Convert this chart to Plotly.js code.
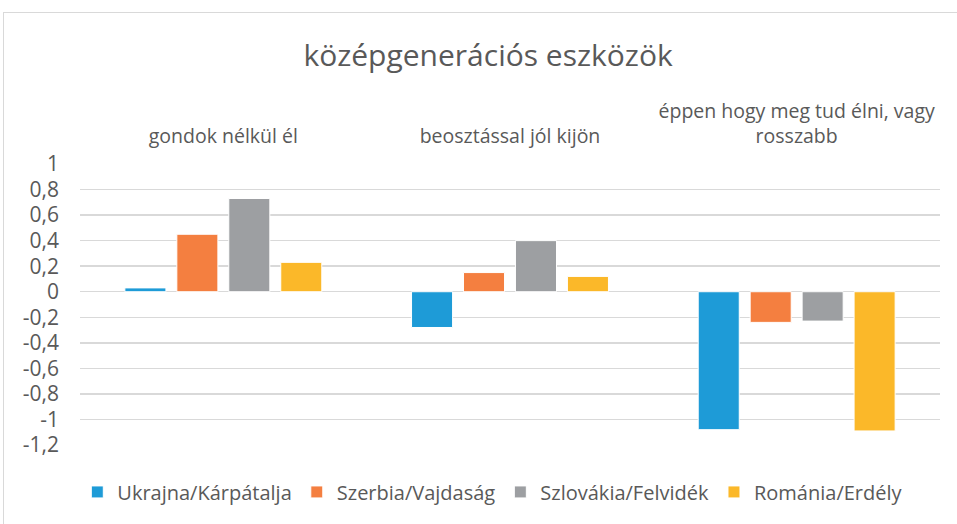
<!DOCTYPE html>
<html>
<head>
<meta charset="utf-8">
<script src="https://cdn.plot.ly/plotly-3.0.1.min.js"></script>
<style>
html,body{margin:0;padding:0;background:#fff;overflow:hidden;}
#frame{position:absolute;left:3px;top:12px;width:1000px;height:600px;border-left:1px solid #d9d9d9;border-top:1px solid #d9d9d9;}
#chart{position:absolute;left:0;top:0;width:957px;height:524px;}
</style>
</head>
<body>
<div id="frame"></div>
<div id="chart"></div>
<script>
const categories = ["gondok nélkül él", "beosztással jól kijön", "éppen hogy meg tud élni, vagy<br>rosszabb"];
const seriesNames = ["Ukrajna/Kárpátalja", "Szerbia/Vajdaság", "Szlovákia/Felvidék", "Románia/Erdély"];
const ukrajna = [0.03, -0.28, -1.08];
const szerbia = [0.45, 0.15, -0.24];
const szlovakia = [0.73, 0.40, -0.23];
const romania = [0.23, 0.12, -1.09];
const tickValues = [1, 0.8, 0.6, 0.4, 0.2, 0, -0.2, -0.4, -0.6, -0.8, -1, -1.2];
const tickLabels = ["1", "0,8", "0,6", "0,4", "0,2", "0", "-0,2", "-0,4", "-0,6", "-0,8", "-1", "-1,2"];
const colors = ["#1E9BD7", "#F47F40", "#9D9FA2", "#FBB829"];

const seriesValues = [ukrajna, szerbia, szlovakia, romania];
const font = "'Open Sans', Lato, sans-serif";
const traces = seriesValues.map((vals, i) => ({
  type: "bar",
  name: seriesNames[i],
  x: categories,
  y: vals,
  marker: {color: colors[i], line: {color: "#ffffff", width: 1}},
  hoverinfo: "none"
}));

const layout = {
  width: 957, height: 524,
  margin: {l: 80, r: 17, t: 164, b: 79},
  paper_bgcolor: "rgba(0,0,0,0)",
  plot_bgcolor: "rgba(0,0,0,0)",
  barmode: "group",
  bargap: 0.275,
  bargroupgap: 0.21,
  font: {family: font, color: "#595959", size: 18},
  title: {text: "középgenerációs eszközök", font: {family: font, size: 30, color: "#595959"}, x: 0.51, xanchor: "center", y: 0.895, yanchor: "middle"},
  xaxis: {side: "top", showgrid: false, zeroline: false, showline: false, ticks: "", tickfont: {size: 19.5, color: "#595959"}, ticklabelstandoff: 16},
  yaxis: {range: [-1.2, 1], tickvals: tickValues, ticktext: tickLabels, showgrid: true, gridcolor: "#d9d9d9", gridwidth: 1.5, zeroline: true, zerolinecolor: "#d9d9d9", zerolinewidth: 1.5, showline: false, ticks: "", tickfont: {size: 21, color: "#595959"}, ticklabelstandoff: 20},
  showlegend: true,
  legend: {orientation: "h", x: 0.48, xanchor: "center", y: -0.167, yanchor: "middle", font: {size: 20, color: "#595959"}, itemwidth: 30, traceorder: "normal"}
};

Plotly.newPlot("chart", traces, layout, {displayModeBar: false, staticPlot: true});
</script>
</body>
</html>
